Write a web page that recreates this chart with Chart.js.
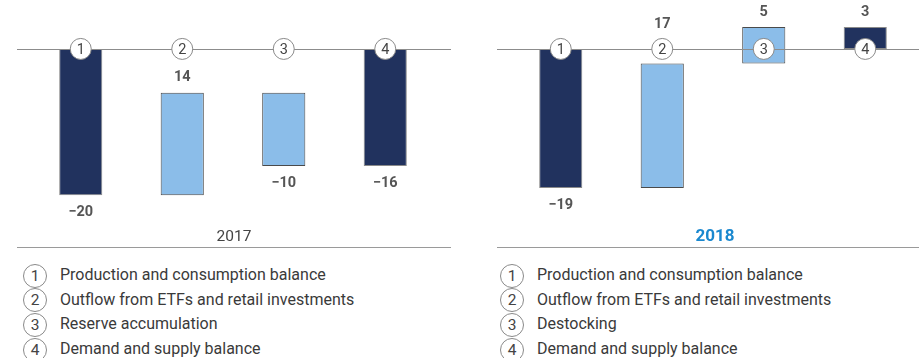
<!DOCTYPE html>
<html>
<head>
<meta charset="utf-8">
<script src="https://cdn.jsdelivr.net/npm/chart.js@4/dist/chart.umd.min.js"></script>
<style>
  html, body { margin: 0; padding: 0; background: #fff; }
  body { width: 919px; height: 358px; position: relative; overflow: hidden; font-family: Roboto, "Noto Sans", sans-serif; }
  canvas { position: absolute; top: 0; }
  .legend { position: absolute; top: 263px; }
  .row { position: relative; height: 24.7px; line-height: 24.7px; font-size: 16px; color: #3a3a3a; white-space: nowrap; }
  .num { position: absolute; left: 0; top: 0.5px; width: 22px; height: 22px; border: 1px solid #8a8a8a; border-radius: 50%; text-align: center; line-height: 23px; font-size: 15.5px; color: #444; box-sizing: content-box; }
  .txt { position: absolute; left: 37px; top: 0; }
</style>
</head>
<body>
<canvas id="c2017" width="460" height="250" style="left:0"></canvas>
<canvas id="c2018" width="459" height="250" style="left:460px"></canvas>
<div class="legend" id="leg2017" style="left:23px"></div>
<div class="legend" id="leg2018" style="left:500px"></div>
<script>
// ---- data ----
const categories = ['1', '2', '3', '4'];
const barKinds = ['total', 'delta', 'delta', 'total'];
const values2017 = [-20, 14, -10, -16];
const values2018 = [-19, 17, 5, 3];
const years = ['2017', '2018'];
const legend2017 = ['Production and consumption balance', 'Outflow from ETFs and retail investments', 'Reserve accumulation', 'Demand and supply balance'];
const legend2018 = ['Production and consumption balance', 'Outflow from ETFs and retail investments', 'Destocking', 'Demand and supply balance'];

const DARK = '#21325e';
const LIGHT = '#8bbde9';

function waterfall(values) {
  let run = 0;
  return values.map((v, i) => {
    if (barKinds[i] === 'total') { run = v; return [0, v]; }
    const start = run; run = run + v; return [start, run];
  });
}
function fmt(v) { return v < 0 ? '\u2212' + Math.abs(v) : String(v); }

const overlayPlugin = {
  id: 'overlay',
  afterDatasetsDraw(chart, args, opts) {
    const ctx = chart.ctx;
    const y0 = chart.scales.y.getPixelForValue(0);
    const xs = chart.scales.x;
    ctx.save();
    // baseline
    ctx.strokeStyle = '#8c8c8c';
    ctx.lineWidth = 1;
    ctx.beginPath();
    ctx.moveTo(opts.lineLeft, Math.round(y0) + 0.5);
    ctx.lineTo(opts.lineRight, Math.round(y0) + 0.5);
    ctx.stroke();
    // bottom rule
    ctx.strokeStyle = '#9a9a9a';
    ctx.beginPath();
    ctx.moveTo(opts.lineLeft, 247.5);
    ctx.lineTo(opts.lineRight, 247.5);
    ctx.stroke();
    // circles + value labels
    const vals = opts.values;
    const ranges = waterfall(vals);
    categories.forEach((c, i) => {
      const x = xs.getPixelForValue(i);
      ctx.beginPath();
      ctx.arc(x, y0, 10.5, 0, Math.PI * 2);
      ctx.fillStyle = '#fff';
      ctx.fill();
      ctx.strokeStyle = '#8a8a8a';
      ctx.lineWidth = 1;
      ctx.stroke();
      ctx.fillStyle = '#444';
      ctx.font = '14.5px Roboto';
      ctx.textAlign = 'center';
      ctx.textBaseline = 'middle';
      ctx.fillText(c, x, y0 + 1);

      const r = ranges[i];
      const top = chart.scales.y.getPixelForValue(Math.max(r[0], r[1]));
      const bot = chart.scales.y.getPixelForValue(Math.min(r[0], r[1]));
      let ly;
      if (vals[i] < 0) {
        ly = bot + 17;
      } else {
        ly = top - 15;
        if (ly > y0 - 14 && ly < y0 + 28) ly = y0 - 25;
      }
      ctx.font = 'bold 14.5px Roboto';
      ctx.fillStyle = '#555';
      ctx.fillText(fmt(vals[i]), x, ly);
    });
    // year label
    ctx.font = opts.yearBold ? 'bold 17px Roboto' : '15.5px Roboto';
    ctx.fillStyle = opts.yearColor;
    ctx.fillText(opts.year, opts.yearX, 237);
    ctx.restore();
  }
};

function makeChart(id, values, year, padding, lineLeft, lineRight, yearX, yearBold, yearColor) {
  const ranges = waterfall(values);
  return new Chart(document.getElementById(id), {
    type: 'bar',
    data: {
      labels: categories,
      datasets: [{
        data: ranges,
        backgroundColor: barKinds.map(k => k === 'total' ? DARK : LIGHT),
        borderColor: barKinds.map(k => k === 'total' ? '#8a8a8a' : '#4a4a4a'),
        borderWidth: 1,
        borderSkipped: false,
        categoryPercentage: 1,
        barPercentage: 0.425
      }]
    },
    options: {
      responsive: false,
      animation: false,
      devicePixelRatio: 1,
      layout: { padding: padding },
      scales: {
        x: { display: false },
        y: { display: false, min: -22, max: 6 }
      },
      plugins: {
        legend: { display: false },
        tooltip: { enabled: false },
        overlay: { values, year, lineLeft, lineRight, yearX, yearBold, yearColor }
      }
    },
    plugins: [overlayPlugin]
  });
}

makeChart('c2017', values2017, years[0], { left: 30, right: 24, top: 5, bottom: 40 }, 17, 451, 234, false, '#444');
makeChart('c2018', values2018, years[1], { left: 50, right: 3, top: 5, bottom: 40 }, 37, 459, 255, true, '#1a88cf');

function buildLegend(id, items) {
  const el = document.getElementById(id);
  items.forEach((t, i) => {
    const row = document.createElement('div');
    row.className = 'row';
    const n = document.createElement('span');
    n.className = 'num';
    n.textContent = categories[i];
    const s = document.createElement('span');
    s.className = 'txt';
    s.textContent = t;
    row.appendChild(n); row.appendChild(s);
    el.appendChild(row);
  });
}
buildLegend('leg2017', legend2017);
buildLegend('leg2018', legend2018);
</script>
</body>
</html>
